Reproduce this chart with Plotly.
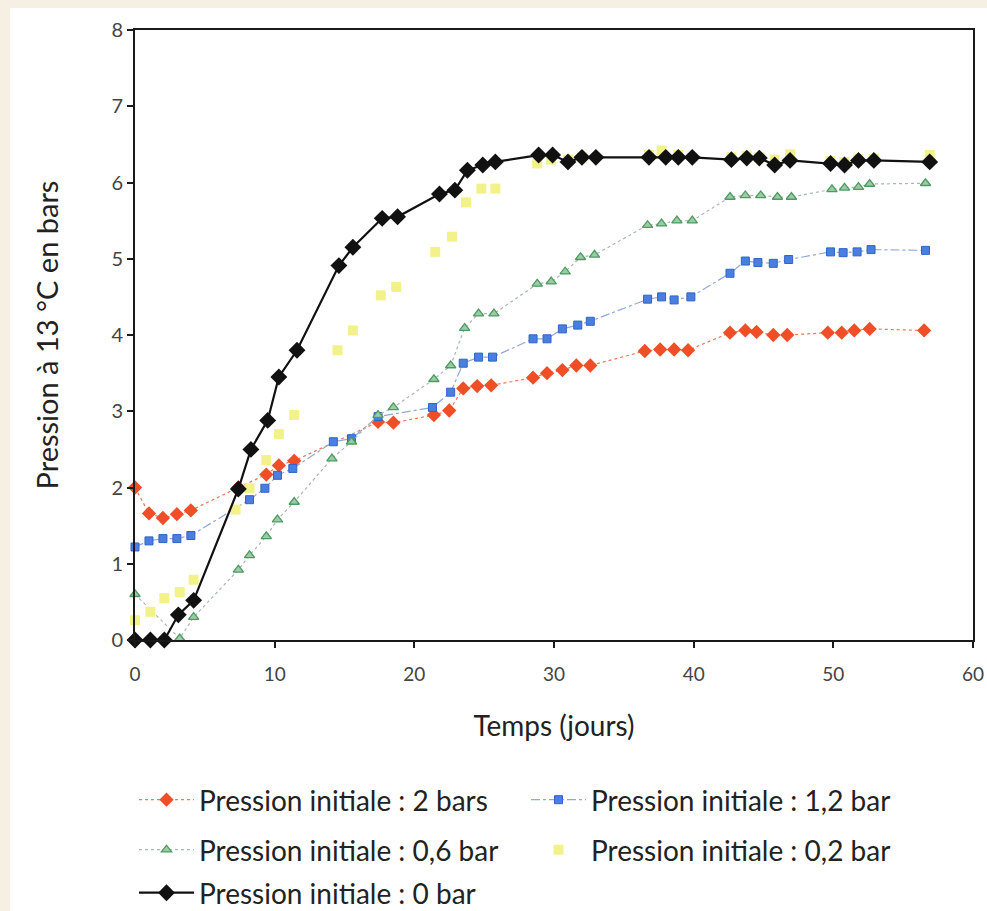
import plotly.graph_objects as go

# ---- data ----
red_days = [0, 1, 2, 3, 4, 7.4, 9.4, 10.3, 11.4, 17.4, 18.5, 21.4, 22.5, 23.5, 24.5, 25.5,
            28.5, 29.5, 30.6, 31.6, 32.6, 36.5, 37.6, 38.6, 39.6, 42.6, 43.7, 44.5, 45.7, 46.7,
            49.6, 50.6, 51.5, 52.6, 56.5]
red_vals = [2.0, 1.66, 1.6, 1.65, 1.7, 2.0, 2.17, 2.29, 2.35, 2.86, 2.85, 2.95, 3.01, 3.30, 3.33, 3.34,
            3.44, 3.5, 3.54, 3.6, 3.6, 3.79, 3.81, 3.81, 3.8, 4.03, 4.06, 4.04, 4.0, 4.0,
            4.03, 4.03, 4.06, 4.08, 4.06]

blue_days = [0, 1, 2, 3, 4, 8.2, 9.3, 10.2, 11.3, 14.2, 15.5, 17.4, 21.3, 22.6, 23.5, 24.6, 25.6,
             28.5, 29.5, 30.6, 31.7, 32.6, 36.7, 37.7, 38.6, 39.8, 42.6, 43.7, 44.6, 45.7, 46.8,
             49.8, 50.7, 51.7, 52.7, 56.6]
blue_vals = [1.22, 1.30, 1.33, 1.33, 1.37, 1.84, 1.99, 2.16, 2.25, 2.60, 2.64, 2.93, 3.05, 3.25, 3.63, 3.71, 3.71,
             3.95, 3.95, 4.08, 4.13, 4.18, 4.47, 4.50, 4.46, 4.50, 4.81, 4.97, 4.95, 4.94, 4.99,
             5.09, 5.08, 5.09, 5.12, 5.11]

green_days = [0, 3.2, 4.2, 7.4, 8.2, 9.4, 10.2, 11.4, 14.1, 15.5, 17.4, 18.5, 21.4, 22.6, 23.6, 24.6, 25.7,
              28.8, 29.8, 30.8, 31.9, 32.9, 36.7, 37.7, 38.8, 39.9, 42.6, 43.7, 44.8, 46.0, 47.0,
              49.9, 50.8, 51.8, 52.6, 56.6]
green_vals = [0.6, 0.02, 0.3, 0.92, 1.11, 1.36, 1.58, 1.81, 2.38, 2.6, 2.95, 3.05, 3.42, 3.60, 4.09, 4.28, 4.28,
              4.67, 4.70, 4.83, 5.02, 5.05, 5.44, 5.46, 5.50, 5.50, 5.81, 5.83, 5.83, 5.81, 5.81,
              5.91, 5.93, 5.94, 5.98, 5.99]

yellow_days = [0, 1.1, 2.1, 3.2, 4.2, 7.2, 8.2, 9.4, 10.3, 11.4, 14.5, 15.6, 17.6, 18.7, 21.5, 22.7, 23.7,
               24.8, 25.8, 28.8, 29.8, 31.0, 32.0, 36.8, 37.7, 38.9, 42.7, 43.8, 44.7, 45.8, 46.9,
               49.8, 50.8, 51.8, 52.9, 56.9]
yellow_vals = [0.26, 0.37, 0.55, 0.63, 0.79, 1.71, 1.99, 2.36, 2.70, 2.95, 3.80, 4.06, 4.52, 4.63, 5.09, 5.29, 5.74,
               5.92, 5.92, 6.25, 6.30, 6.30, 6.33, 6.36, 6.42, 6.36, 6.33, 6.35, 6.33, 6.30, 6.37,
               6.28, 6.27, 6.31, 6.31, 6.36]

black_days = [0, 1.1, 2.1, 3.1, 4.2, 7.4, 8.3, 9.5, 10.3, 11.6, 14.6, 15.6, 17.7, 18.8, 21.8, 22.9, 23.8,
              24.9, 25.8, 28.9, 29.9, 31.0, 32.0, 33.0, 36.8, 38.0, 38.9, 39.9, 42.7, 43.8, 44.7, 45.8,
              46.9, 49.8, 50.8, 51.8, 52.9, 56.9]
black_vals = [0, 0, 0, 0.33, 0.52, 1.98, 2.50, 2.88, 3.45, 3.80, 4.91, 5.15, 5.53, 5.55, 5.85, 5.90, 6.16,
              6.23, 6.27, 6.36, 6.36, 6.27, 6.33, 6.33, 6.33, 6.33, 6.33, 6.33, 6.30, 6.32, 6.32, 6.23,
              6.29, 6.25, 6.23, 6.29, 6.29, 6.27]

names = ["Pression initiale : 2 bars", "Pression initiale : 1,2 bar", "Pression initiale : 0,6 bar",
         "Pression initiale : 0,2 bar", "Pression initiale : 0 bar"]

x_ticks = [0, 10, 20, 30, 40, 50, 60]
y_ticks = [0, 1, 2, 3, 4, 5, 6, 7, 8]

FONT = "Lato, 'Open Sans', sans-serif"
W, H = 987, 911
L, R, T, B = 135, 14, 30, 271
PH = H - T - B

def py(px_y):
    # pixel y (from top) -> paper y
    return (H - B - px_y) / PH

def px(px_x):
    return (px_x - L) / (W - L - R)

fig = go.Figure()

fig.add_trace(go.Scatter(x=red_days, y=red_vals, name=names[0], mode="lines+markers",
                         line=dict(color="#F0775A", width=1.2, dash="dot"),
                         marker=dict(symbol="diamond", size=11, color="#EF4E26"),
                         cliponaxis=False, legend="legend"))
fig.add_trace(go.Scatter(x=blue_days, y=blue_vals, name=names[1], mode="lines+markers",
                         line=dict(color="#8FA9D8", width=1.2, dash="dashdot"),
                         marker=dict(symbol="square", size=8, color="#4A7EE0",
                                     line=dict(color="#2F64C8", width=1)),
                         cliponaxis=False, legend="legend"))
fig.add_trace(go.Scatter(x=green_days, y=green_vals, name=names[2], mode="lines+markers",
                         line=dict(color="#A8B8AE", width=1.2, dash="dot"),
                         marker=dict(symbol="triangle-up", size=9, color="#9ACCA5",
                                     line=dict(color="#4E9A62", width=1.3)),
                         cliponaxis=False, legend="legend2"))
fig.add_trace(go.Scatter(x=yellow_days, y=yellow_vals, name=names[3], mode="markers",
                         marker=dict(symbol="square", size=10, color="#F3F28A"),
                         cliponaxis=False, legend="legend2"))
fig.add_trace(go.Scatter(x=black_days, y=black_vals, name=names[4], mode="lines+markers",
                         line=dict(color="#111111", width=2.2),
                         marker=dict(symbol="diamond", size=13, color="#111111"),
                         cliponaxis=False, legend="legend3"))

leg_common = dict(orientation="h", xanchor="left", yanchor="middle",
                  font=dict(family=FONT, size=28, color="#222222"),
                  bgcolor="rgba(0,0,0,0)", itemwidth=55,
                  entrywidth=322, entrywidthmode="pixels", tracegroupgap=0)

LEGX = 134
fig.update_layout(
    width=W, height=H,
    margin=dict(l=L, r=R, t=T, b=B, autoexpand=False),
    paper_bgcolor="#F5F0E3",
    plot_bgcolor="white",
    font=dict(family=FONT, size=18, color="#333333"),
    legend=dict(x=px(LEGX), y=py(800), **leg_common),
    legend2=dict(x=px(LEGX), y=py(850), **leg_common),
    legend3=dict(x=px(LEGX), y=py(893), **leg_common),
    shapes=[dict(type="rect", xref="paper", yref="paper",
                 x0=px(10), x1=px(W + 5), y0=py(H + 5), y1=py(8),
                 fillcolor="white", line=dict(width=0), layer="below")],
)

fig.update_xaxes(range=[0, 60], tickvals=x_ticks, ticktext=[str(v) for v in x_ticks],
                 showgrid=False, zeroline=False, showline=True, linecolor="#1a1a1a", linewidth=2,
                 mirror=True, ticks="outside", ticklen=6, tickwidth=2, tickcolor="#1a1a1a",
                 ticklabelstandoff=10, ticklabeloverflow="allow",
                 tickfont=dict(family=FONT, size=19, color="#444444"),
                 title=dict(text="Temps (jours)", font=dict(family=FONT, size=28, color="#222222"),
                            standoff=33))
fig.update_yaxes(range=[0, 8], tickvals=y_ticks, ticktext=[str(v) for v in y_ticks],
                 showgrid=False, zeroline=False, showline=True, linecolor="#1a1a1a", linewidth=2,
                 mirror=True, ticks="outside", ticklen=6, tickwidth=2, tickcolor="#1a1a1a",
                 ticklabeloverflow="allow",
                 tickfont=dict(family=FONT, size=20, color="#444444"),
                 title=dict(text="Pression à 13 °C en bars", font=dict(family=FONT, size=29, color="#222222"),
                            standoff=44))

fig.write_html("out.html", config={"displayModeBar": False},
               post_script="document.body.style.margin='0';document.body.style.overflow='hidden';")
